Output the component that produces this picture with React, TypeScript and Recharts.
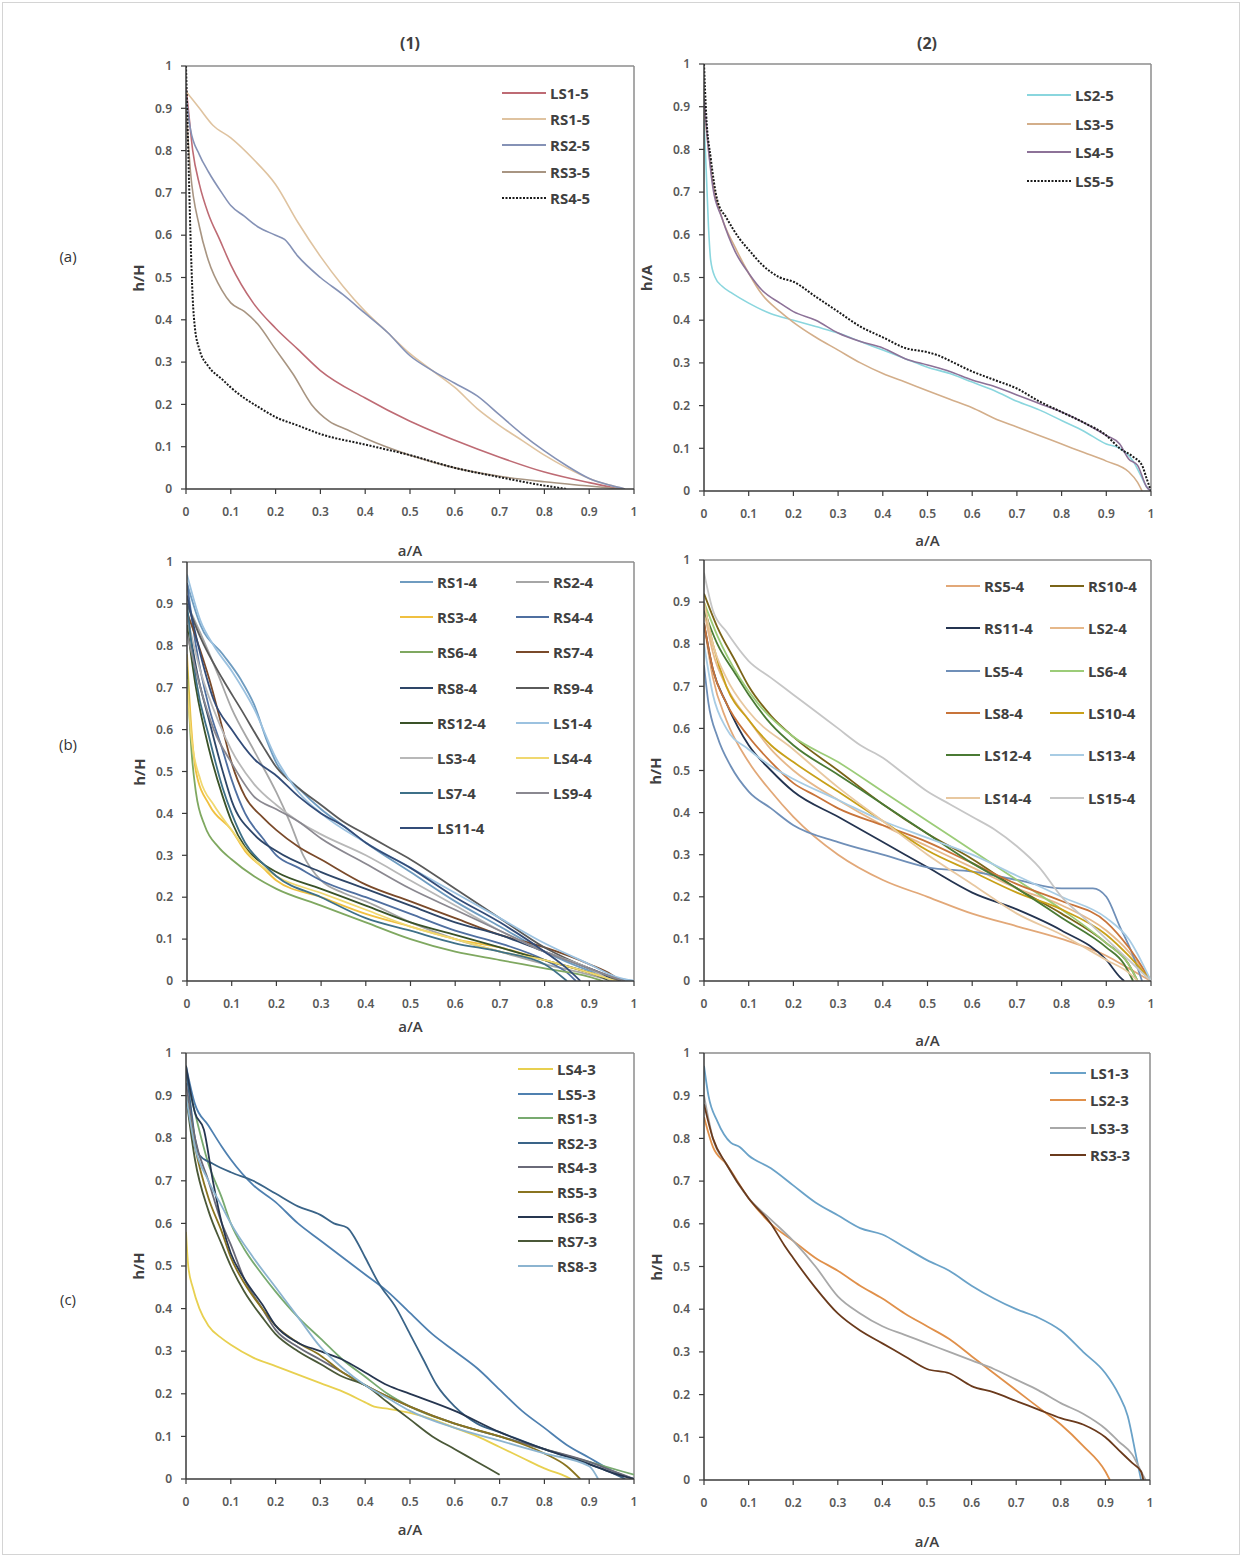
import React from 'react';
import { LineChart, Line, XAxis, YAxis, ReferenceLine } from 'recharts';

type Pt = { x: number; y: number };
const pts = (pairs: number[][]): Pt[] => pairs.map(([x, y]) => ({ x, y }));

const TICKS = [0, 0.1, 0.2, 0.3, 0.4, 0.5, 0.6, 0.7, 0.8, 0.9, 1];

// (a)(1)
const LS1_5 = pts([[0, 0.95], [0.005, 0.9], [0.015, 0.8], [0.03, 0.72], [0.05, 0.65], [0.075, 0.59], [0.1, 0.53], [0.15, 0.44], [0.2, 0.38], [0.25, 0.33], [0.3, 0.28], [0.4, 0.215], [0.5, 0.16], [0.6, 0.115], [0.7, 0.075], [0.8, 0.04], [0.9, 0.015], [0.97, 0]]);
const RS1_5 = pts([[0, 0.94], [0.03, 0.9], [0.06, 0.86], [0.1, 0.83], [0.15, 0.78], [0.2, 0.72], [0.25, 0.63], [0.3, 0.55], [0.35, 0.48], [0.4, 0.42], [0.45, 0.37], [0.5, 0.32], [0.55, 0.28], [0.6, 0.24], [0.65, 0.19], [0.7, 0.15], [0.75, 0.115], [0.8, 0.08], [0.85, 0.05], [0.9, 0.025], [0.95, 0.008], [0.98, 0]]);
const RS2_5 = pts([[0, 0.93], [0.01, 0.85], [0.03, 0.79], [0.05, 0.75], [0.08, 0.7], [0.1, 0.67], [0.13, 0.645], [0.16, 0.62], [0.2, 0.6], [0.22, 0.59], [0.25, 0.55], [0.3, 0.5], [0.35, 0.46], [0.4, 0.415], [0.45, 0.37], [0.5, 0.315], [0.55, 0.28], [0.6, 0.25], [0.65, 0.22], [0.7, 0.175], [0.75, 0.13], [0.8, 0.09], [0.85, 0.055], [0.9, 0.025], [0.95, 0.008], [0.98, 0]]);
const RS3_5 = pts([[0, 0.9], [0.01, 0.75], [0.03, 0.62], [0.05, 0.54], [0.08, 0.47], [0.1, 0.44], [0.13, 0.42], [0.16, 0.39], [0.2, 0.33], [0.24, 0.27], [0.28, 0.2], [0.32, 0.16], [0.36, 0.14], [0.4, 0.12], [0.5, 0.08], [0.6, 0.05], [0.7, 0.03], [0.8, 0.017], [0.9, 0.007], [0.97, 0]]);
const RS4_5 = pts([[0, 1], [0.005, 0.8], [0.01, 0.6], [0.015, 0.45], [0.02, 0.38], [0.03, 0.33], [0.05, 0.29], [0.08, 0.26], [0.1, 0.24], [0.13, 0.215], [0.16, 0.195], [0.2, 0.17], [0.25, 0.15], [0.3, 0.13], [0.4, 0.105], [0.5, 0.08], [0.6, 0.05], [0.7, 0.028], [0.8, 0.008], [0.85, 0]]);

// (a)(2)
const LS2_5 = pts([[0, 0.87], [0.005, 0.75], [0.01, 0.62], [0.015, 0.54], [0.025, 0.5], [0.04, 0.48], [0.06, 0.465], [0.1, 0.44], [0.15, 0.415], [0.2, 0.4], [0.25, 0.385], [0.3, 0.37], [0.35, 0.35], [0.4, 0.33], [0.45, 0.31], [0.5, 0.29], [0.55, 0.275], [0.6, 0.255], [0.65, 0.235], [0.7, 0.21], [0.75, 0.19], [0.8, 0.165], [0.85, 0.14], [0.9, 0.11], [0.93, 0.1], [0.96, 0.07], [0.98, 0.03], [0.99, 0.01], [1, 0]]);
const LS3_5 = pts([[0, 0.9], [0.01, 0.8], [0.02, 0.72], [0.04, 0.64], [0.07, 0.57], [0.1, 0.51], [0.13, 0.46], [0.17, 0.42], [0.2, 0.395], [0.25, 0.36], [0.3, 0.33], [0.35, 0.3], [0.4, 0.275], [0.45, 0.255], [0.5, 0.235], [0.55, 0.215], [0.6, 0.195], [0.65, 0.17], [0.7, 0.15], [0.75, 0.13], [0.8, 0.11], [0.85, 0.09], [0.9, 0.07], [0.95, 0.045], [0.97, 0.02], [0.98, 0]]);
const LS4_5 = pts([[0, 0.92], [0.01, 0.8], [0.02, 0.71], [0.04, 0.64], [0.07, 0.56], [0.1, 0.51], [0.13, 0.47], [0.17, 0.44], [0.2, 0.42], [0.25, 0.4], [0.3, 0.37], [0.35, 0.35], [0.4, 0.335], [0.45, 0.31], [0.5, 0.295], [0.55, 0.28], [0.6, 0.26], [0.65, 0.245], [0.7, 0.225], [0.75, 0.205], [0.8, 0.185], [0.85, 0.16], [0.9, 0.13], [0.93, 0.11], [0.95, 0.075], [0.97, 0.06], [0.99, 0.01], [1, 0]]);
const LS5_5 = pts([[0, 1], [0.005, 0.88], [0.015, 0.78], [0.03, 0.68], [0.05, 0.64], [0.08, 0.59], [0.1, 0.565], [0.13, 0.53], [0.17, 0.5], [0.2, 0.49], [0.25, 0.455], [0.3, 0.42], [0.35, 0.385], [0.4, 0.36], [0.45, 0.335], [0.5, 0.325], [0.53, 0.315], [0.55, 0.305], [0.6, 0.28], [0.65, 0.26], [0.7, 0.24], [0.75, 0.21], [0.8, 0.185], [0.85, 0.16], [0.9, 0.13], [0.93, 0.1], [0.96, 0.08], [0.98, 0.06], [0.99, 0.03], [1, 0]]);

// (b)(1)
const B1_RS1 = pts([[0, 0.95], [0.03, 0.85], [0.08, 0.78], [0.12, 0.72], [0.15, 0.66], [0.18, 0.57], [0.2, 0.52], [0.25, 0.46], [0.3, 0.41], [0.35, 0.37], [0.4, 0.33], [0.5, 0.26], [0.6, 0.19], [0.7, 0.13], [0.8, 0.07], [0.9, 0.025], [0.97, 0.005], [1, 0]]);
const B1_RS2 = pts([[0, 0.9], [0.03, 0.83], [0.07, 0.73], [0.1, 0.65], [0.15, 0.55], [0.2, 0.45], [0.23, 0.38], [0.26, 0.3], [0.3, 0.24], [0.35, 0.21], [0.4, 0.19], [0.5, 0.14], [0.6, 0.1], [0.7, 0.07], [0.8, 0.04], [0.9, 0.015], [0.95, 0]]);
const B1_RS3 = pts([[0, 0.78], [0.01, 0.6], [0.02, 0.5], [0.05, 0.42], [0.1, 0.36], [0.13, 0.31], [0.17, 0.27], [0.2, 0.24], [0.3, 0.2], [0.4, 0.16], [0.5, 0.13], [0.6, 0.1], [0.7, 0.08], [0.8, 0.05], [0.9, 0.02], [0.97, 0]]);
const B1_RS4 = pts([[0, 0.95], [0.02, 0.8], [0.05, 0.65], [0.08, 0.55], [0.1, 0.48], [0.13, 0.4], [0.17, 0.34], [0.2, 0.3], [0.25, 0.27], [0.3, 0.24], [0.4, 0.2], [0.5, 0.16], [0.6, 0.12], [0.7, 0.09], [0.8, 0.05], [0.85, 0.02], [0.87, 0]]);
const B1_RS6 = pts([[0, 0.75], [0.01, 0.55], [0.02, 0.45], [0.04, 0.37], [0.07, 0.32], [0.1, 0.29], [0.15, 0.25], [0.2, 0.22], [0.3, 0.18], [0.4, 0.14], [0.5, 0.1], [0.6, 0.07], [0.7, 0.05], [0.8, 0.03], [0.9, 0.01], [0.93, 0]]);
const B1_RS7 = pts([[0, 0.88], [0.02, 0.82], [0.05, 0.72], [0.08, 0.6], [0.1, 0.52], [0.13, 0.44], [0.17, 0.39], [0.2, 0.36], [0.25, 0.32], [0.3, 0.29], [0.4, 0.23], [0.5, 0.19], [0.6, 0.15], [0.7, 0.11], [0.8, 0.08], [0.9, 0.04], [0.95, 0.015], [0.97, 0]]);
const B1_RS8 = pts([[0, 0.88], [0.02, 0.75], [0.05, 0.62], [0.08, 0.5], [0.1, 0.43], [0.15, 0.35], [0.2, 0.31], [0.3, 0.26], [0.4, 0.22], [0.5, 0.18], [0.6, 0.14], [0.7, 0.11], [0.8, 0.07], [0.9, 0.03], [0.95, 0.005], [0.96, 0]]);
const B1_RS9 = pts([[0, 0.9], [0.03, 0.82], [0.08, 0.72], [0.12, 0.65], [0.17, 0.56], [0.2, 0.51], [0.25, 0.46], [0.3, 0.42], [0.35, 0.38], [0.4, 0.35], [0.45, 0.32], [0.5, 0.29], [0.6, 0.22], [0.7, 0.15], [0.8, 0.08], [0.9, 0.03], [0.95, 0.01], [0.97, 0]]);
const B1_RS12 = pts([[0, 0.85], [0.02, 0.7], [0.05, 0.55], [0.08, 0.44], [0.1, 0.38], [0.13, 0.32], [0.17, 0.28], [0.2, 0.26], [0.3, 0.22], [0.4, 0.18], [0.5, 0.14], [0.6, 0.11], [0.7, 0.08], [0.8, 0.05], [0.9, 0.02], [0.95, 0]]);
const B1_LS1 = pts([[0, 0.97], [0.03, 0.86], [0.06, 0.8], [0.1, 0.74], [0.15, 0.65], [0.2, 0.53], [0.25, 0.45], [0.3, 0.4], [0.4, 0.33], [0.5, 0.27], [0.6, 0.21], [0.7, 0.15], [0.8, 0.09], [0.9, 0.04], [0.96, 0.01], [1, 0]]);
const B1_LS3 = pts([[0, 0.87], [0.03, 0.74], [0.07, 0.62], [0.1, 0.55], [0.15, 0.47], [0.2, 0.42], [0.25, 0.38], [0.3, 0.35], [0.4, 0.3], [0.5, 0.24], [0.6, 0.18], [0.7, 0.12], [0.8, 0.07], [0.9, 0.03], [0.95, 0]]);
const B1_LS4 = pts([[0, 0.72], [0.01, 0.58], [0.03, 0.48], [0.06, 0.42], [0.1, 0.36], [0.15, 0.29], [0.2, 0.25], [0.3, 0.21], [0.4, 0.17], [0.5, 0.13], [0.6, 0.1], [0.7, 0.07], [0.8, 0.05], [0.9, 0.02], [0.96, 0]]);
const B1_LS7 = pts([[0, 0.9], [0.02, 0.72], [0.05, 0.58], [0.08, 0.46], [0.1, 0.4], [0.13, 0.33], [0.17, 0.28], [0.2, 0.25], [0.3, 0.2], [0.4, 0.15], [0.5, 0.12], [0.6, 0.09], [0.7, 0.07], [0.8, 0.04], [0.85, 0]]);
const B1_LS9 = pts([[0, 0.83], [0.03, 0.7], [0.06, 0.6], [0.1, 0.52], [0.15, 0.44], [0.2, 0.41], [0.25, 0.38], [0.3, 0.34], [0.4, 0.28], [0.5, 0.22], [0.6, 0.17], [0.7, 0.12], [0.8, 0.07], [0.9, 0.03], [0.95, 0.01], [0.98, 0]]);
const B1_LS11 = pts([[0, 0.92], [0.03, 0.78], [0.06, 0.67], [0.1, 0.6], [0.15, 0.53], [0.2, 0.49], [0.25, 0.44], [0.3, 0.4], [0.35, 0.37], [0.4, 0.33], [0.5, 0.27], [0.6, 0.2], [0.7, 0.14], [0.8, 0.07], [0.85, 0.03], [0.88, 0]]);

// (b)(2)
const B2_RS5 = pts([[0, 0.85], [0.02, 0.72], [0.05, 0.62], [0.1, 0.52], [0.15, 0.45], [0.2, 0.39], [0.3, 0.3], [0.4, 0.24], [0.5, 0.2], [0.6, 0.16], [0.7, 0.13], [0.8, 0.1], [0.9, 0.06], [0.95, 0.03], [1, 0]]);
const B2_RS10 = pts([[0, 0.92], [0.03, 0.84], [0.07, 0.76], [0.1, 0.7], [0.15, 0.63], [0.2, 0.58], [0.3, 0.5], [0.4, 0.42], [0.5, 0.35], [0.6, 0.29], [0.7, 0.22], [0.8, 0.16], [0.9, 0.09], [0.95, 0.04], [0.97, 0]]);
const B2_RS11 = pts([[0, 0.85], [0.02, 0.74], [0.05, 0.66], [0.1, 0.56], [0.15, 0.5], [0.2, 0.45], [0.3, 0.39], [0.4, 0.33], [0.5, 0.27], [0.6, 0.21], [0.7, 0.17], [0.8, 0.12], [0.9, 0.05], [0.93, 0.01], [0.94, 0]]);
const B2_LS2 = pts([[0, 0.88], [0.02, 0.78], [0.05, 0.7], [0.1, 0.62], [0.15, 0.55], [0.2, 0.5], [0.3, 0.43], [0.4, 0.37], [0.5, 0.32], [0.6, 0.27], [0.7, 0.22], [0.8, 0.18], [0.9, 0.12], [0.95, 0.07], [1, 0]]);
const B2_LS5 = pts([[0, 0.75], [0.01, 0.66], [0.03, 0.58], [0.06, 0.51], [0.1, 0.45], [0.15, 0.41], [0.2, 0.37], [0.3, 0.33], [0.4, 0.3], [0.5, 0.27], [0.6, 0.26], [0.7, 0.24], [0.8, 0.22], [0.87, 0.22], [0.9, 0.2], [0.93, 0.13], [0.96, 0.06], [0.98, 0]]);
const B2_LS6 = pts([[0, 0.9], [0.03, 0.82], [0.08, 0.72], [0.12, 0.66], [0.2, 0.58], [0.3, 0.52], [0.4, 0.45], [0.5, 0.38], [0.6, 0.31], [0.7, 0.24], [0.8, 0.17], [0.9, 0.09], [0.95, 0.04], [0.97, 0]]);
const B2_LS8 = pts([[0, 0.85], [0.02, 0.74], [0.05, 0.66], [0.1, 0.58], [0.15, 0.52], [0.2, 0.47], [0.25, 0.44], [0.3, 0.41], [0.4, 0.37], [0.5, 0.33], [0.6, 0.28], [0.7, 0.23], [0.8, 0.19], [0.9, 0.14], [0.95, 0.08], [1, 0]]);
const B2_LS10 = pts([[0, 0.9], [0.02, 0.8], [0.05, 0.7], [0.1, 0.62], [0.15, 0.56], [0.2, 0.52], [0.3, 0.45], [0.4, 0.38], [0.5, 0.31], [0.6, 0.26], [0.7, 0.21], [0.8, 0.17], [0.9, 0.11], [0.95, 0.06], [1, 0]]);
const B2_LS12 = pts([[0, 0.88], [0.03, 0.8], [0.07, 0.73], [0.1, 0.68], [0.15, 0.61], [0.2, 0.56], [0.3, 0.49], [0.4, 0.42], [0.5, 0.35], [0.6, 0.28], [0.7, 0.22], [0.8, 0.15], [0.9, 0.08], [0.94, 0.04], [0.96, 0]]);
const B2_LS13 = pts([[0, 0.8], [0.02, 0.68], [0.05, 0.6], [0.1, 0.55], [0.15, 0.51], [0.2, 0.48], [0.3, 0.43], [0.4, 0.38], [0.5, 0.34], [0.6, 0.3], [0.7, 0.25], [0.8, 0.2], [0.9, 0.15], [0.95, 0.1], [1, 0]]);
const B2_LS14 = pts([[0, 0.9], [0.02, 0.8], [0.05, 0.72], [0.1, 0.64], [0.2, 0.55], [0.3, 0.46], [0.4, 0.38], [0.5, 0.3], [0.6, 0.23], [0.7, 0.16], [0.8, 0.11], [0.9, 0.05], [0.95, 0.02], [0.97, 0]]);
const B2_LS15 = pts([[0, 0.97], [0.02, 0.88], [0.05, 0.83], [0.1, 0.76], [0.15, 0.72], [0.2, 0.68], [0.25, 0.64], [0.3, 0.6], [0.35, 0.56], [0.4, 0.53], [0.45, 0.49], [0.5, 0.45], [0.55, 0.42], [0.6, 0.39], [0.65, 0.36], [0.7, 0.32], [0.75, 0.27], [0.8, 0.2], [0.85, 0.15], [0.9, 0.1], [0.95, 0.05], [1, 0]]);

// (c)(1)
const C1_LS4 = pts([[0, 0.58], [0.005, 0.5], [0.015, 0.45], [0.03, 0.4], [0.05, 0.36], [0.08, 0.33], [0.1, 0.315], [0.15, 0.285], [0.2, 0.265], [0.25, 0.245], [0.3, 0.225], [0.35, 0.205], [0.4, 0.18], [0.42, 0.17], [0.45, 0.165], [0.5, 0.155], [0.55, 0.14], [0.6, 0.12], [0.65, 0.1], [0.7, 0.075], [0.75, 0.05], [0.8, 0.025], [0.85, 0.005], [0.86, 0]]);
const C1_LS5 = pts([[0, 0.97], [0.02, 0.88], [0.05, 0.83], [0.08, 0.78], [0.1, 0.75], [0.15, 0.69], [0.2, 0.65], [0.25, 0.6], [0.3, 0.56], [0.35, 0.52], [0.4, 0.48], [0.45, 0.44], [0.5, 0.39], [0.55, 0.34], [0.6, 0.3], [0.65, 0.26], [0.7, 0.21], [0.75, 0.16], [0.8, 0.12], [0.85, 0.08], [0.9, 0.05], [0.95, 0.02], [1, 0]]);
const C1_RS1 = pts([[0, 0.95], [0.02, 0.86], [0.05, 0.74], [0.08, 0.66], [0.1, 0.6], [0.13, 0.54], [0.17, 0.48], [0.2, 0.44], [0.25, 0.38], [0.3, 0.33], [0.35, 0.28], [0.4, 0.24], [0.45, 0.2], [0.5, 0.17], [0.6, 0.13], [0.7, 0.1], [0.8, 0.07], [0.9, 0.04], [0.95, 0.025], [1, 0.01]]);
const C1_RS2 = pts([[0, 0.96], [0.01, 0.88], [0.02, 0.8], [0.03, 0.76], [0.06, 0.74], [0.1, 0.72], [0.15, 0.7], [0.2, 0.67], [0.25, 0.64], [0.3, 0.62], [0.33, 0.6], [0.36, 0.59], [0.38, 0.56], [0.4, 0.52], [0.43, 0.46], [0.47, 0.4], [0.5, 0.34], [0.53, 0.28], [0.56, 0.22], [0.6, 0.17], [0.65, 0.13], [0.7, 0.11], [0.8, 0.07], [0.9, 0.035], [0.95, 0.015], [0.98, 0]]);
const C1_RS4 = pts([[0, 0.93], [0.02, 0.8], [0.05, 0.7], [0.08, 0.6], [0.1, 0.55], [0.13, 0.47], [0.17, 0.4], [0.2, 0.35], [0.25, 0.31], [0.3, 0.28], [0.35, 0.25], [0.4, 0.22], [0.5, 0.17], [0.6, 0.13], [0.7, 0.1], [0.8, 0.07], [0.9, 0.04], [0.95, 0.02], [1, 0]]);
const C1_RS5 = pts([[0, 0.9], [0.02, 0.78], [0.05, 0.66], [0.08, 0.58], [0.1, 0.52], [0.13, 0.46], [0.17, 0.4], [0.2, 0.36], [0.25, 0.32], [0.3, 0.29], [0.35, 0.25], [0.4, 0.22], [0.5, 0.17], [0.6, 0.13], [0.7, 0.1], [0.8, 0.06], [0.85, 0.03], [0.88, 0]]);
const C1_RS6 = pts([[0, 0.97], [0.02, 0.86], [0.04, 0.82], [0.06, 0.7], [0.08, 0.6], [0.1, 0.53], [0.13, 0.47], [0.17, 0.41], [0.2, 0.36], [0.25, 0.32], [0.3, 0.3], [0.35, 0.28], [0.4, 0.25], [0.45, 0.22], [0.5, 0.2], [0.6, 0.16], [0.7, 0.11], [0.8, 0.07], [0.9, 0.035], [0.95, 0.015], [1, 0]]);
const C1_RS7 = pts([[0, 0.9], [0.02, 0.75], [0.05, 0.63], [0.08, 0.55], [0.1, 0.5], [0.13, 0.44], [0.17, 0.38], [0.2, 0.34], [0.25, 0.3], [0.3, 0.27], [0.35, 0.24], [0.4, 0.22], [0.45, 0.18], [0.5, 0.14], [0.55, 0.1], [0.6, 0.07], [0.65, 0.04], [0.7, 0.01]]);
const C1_RS8 = pts([[0, 0.9], [0.02, 0.78], [0.05, 0.7], [0.08, 0.64], [0.1, 0.6], [0.15, 0.52], [0.2, 0.45], [0.25, 0.38], [0.3, 0.31], [0.35, 0.26], [0.4, 0.22], [0.45, 0.19], [0.5, 0.16], [0.6, 0.12], [0.7, 0.09], [0.8, 0.06], [0.9, 0.03], [0.92, 0]]);

// (c)(2)
const C2_LS1 = pts([[0, 0.97], [0.01, 0.9], [0.03, 0.84], [0.06, 0.79], [0.08, 0.78], [0.1, 0.76], [0.15, 0.73], [0.2, 0.69], [0.25, 0.65], [0.3, 0.62], [0.35, 0.59], [0.4, 0.575], [0.45, 0.545], [0.5, 0.515], [0.55, 0.49], [0.6, 0.455], [0.65, 0.425], [0.7, 0.4], [0.75, 0.38], [0.8, 0.35], [0.85, 0.3], [0.9, 0.25], [0.93, 0.2], [0.95, 0.15], [0.97, 0.05], [0.98, 0]]);
const C2_LS2 = pts([[0, 0.85], [0.02, 0.78], [0.05, 0.74], [0.1, 0.66], [0.15, 0.6], [0.2, 0.56], [0.25, 0.52], [0.3, 0.49], [0.35, 0.455], [0.4, 0.425], [0.45, 0.39], [0.5, 0.36], [0.55, 0.33], [0.6, 0.29], [0.65, 0.25], [0.7, 0.21], [0.75, 0.17], [0.8, 0.13], [0.85, 0.08], [0.9, 0.02], [0.91, 0]]);
const C2_LS3 = pts([[0, 0.9], [0.02, 0.8], [0.05, 0.74], [0.1, 0.66], [0.15, 0.61], [0.2, 0.56], [0.25, 0.5], [0.3, 0.43], [0.35, 0.39], [0.4, 0.36], [0.45, 0.34], [0.5, 0.32], [0.55, 0.3], [0.6, 0.28], [0.65, 0.26], [0.7, 0.235], [0.75, 0.21], [0.8, 0.18], [0.85, 0.155], [0.9, 0.12], [0.93, 0.09], [0.96, 0.06], [0.98, 0.02], [0.99, 0]]);
const C2_RS3 = pts([[0, 0.88], [0.02, 0.8], [0.05, 0.74], [0.1, 0.66], [0.15, 0.6], [0.18, 0.55], [0.2, 0.52], [0.25, 0.45], [0.3, 0.39], [0.35, 0.35], [0.4, 0.32], [0.45, 0.29], [0.5, 0.26], [0.55, 0.25], [0.6, 0.22], [0.65, 0.205], [0.7, 0.185], [0.75, 0.165], [0.8, 0.145], [0.85, 0.13], [0.9, 0.1], [0.93, 0.07], [0.96, 0.04], [0.98, 0.02], [0.985, 0]]);

type Series = { name: string; data: Pt[]; color: string; dotted?: boolean };

const SERIES_A1: Series[] = [
  { name: 'LS1-5', data: LS1_5, color: '#be6b74' },
  { name: 'RS1-5', data: RS1_5, color: '#dfc3a0' },
  { name: 'RS2-5', data: RS2_5, color: '#8592b6' },
  { name: 'RS3-5', data: RS3_5, color: '#a89582' },
  { name: 'RS4-5', data: RS4_5, color: '#1a1a1a', dotted: true },
];
const SERIES_A2: Series[] = [
  { name: 'LS2-5', data: LS2_5, color: '#8ad6de' },
  { name: 'LS3-5', data: LS3_5, color: '#d3ae8a' },
  { name: 'LS4-5', data: LS4_5, color: '#8d7298' },
  { name: 'LS5-5', data: LS5_5, color: '#1a1a1a', dotted: true },
];
const SERIES_B1: Series[] = [
  { name: 'RS1-4', data: B1_RS1, color: '#6f9cc0' },
  { name: 'RS2-4', data: B1_RS2, color: '#a6a6a6' },
  { name: 'RS3-4', data: B1_RS3, color: '#f0c040' },
  { name: 'RS4-4', data: B1_RS4, color: '#4f6fa0' },
  { name: 'RS6-4', data: B1_RS6, color: '#7fa860' },
  { name: 'RS7-4', data: B1_RS7, color: '#7a4a2a' },
  { name: 'RS8-4', data: B1_RS8, color: '#2e4668' },
  { name: 'RS9-4', data: B1_RS9, color: '#5a5a5a' },
  { name: 'RS12-4', data: B1_RS12, color: '#3a5228' },
  { name: 'LS1-4', data: B1_LS1, color: '#9cc2e0' },
  { name: 'LS3-4', data: B1_LS3, color: '#b8b8b8' },
  { name: 'LS4-4', data: B1_LS4, color: '#f0d870' },
  { name: 'LS7-4', data: B1_LS7, color: '#3e7088' },
  { name: 'LS9-4', data: B1_LS9, color: '#8a8890' },
  { name: 'LS11-4', data: B1_LS11, color: '#334c78' },
];
const SERIES_B2: Series[] = [
  { name: 'RS5-4', data: B2_RS5, color: '#e2a878' },
  { name: 'RS10-4', data: B2_RS10, color: '#7a6418' },
  { name: 'RS11-4', data: B2_RS11, color: '#243450' },
  { name: 'LS2-4', data: B2_LS2, color: '#e6b88a' },
  { name: 'LS5-4', data: B2_LS5, color: '#6f8fb8' },
  { name: 'LS6-4', data: B2_LS6, color: '#9ccc78' },
  { name: 'LS8-4', data: B2_LS8, color: '#c8743a' },
  { name: 'LS10-4', data: B2_LS10, color: '#c8a018' },
  { name: 'LS12-4', data: B2_LS12, color: '#4a7a34' },
  { name: 'LS13-4', data: B2_LS13, color: '#a8cce4' },
  { name: 'LS14-4', data: B2_LS14, color: '#e8c8a0' },
  { name: 'LS15-4', data: B2_LS15, color: '#c6c6c6' },
];
const SERIES_C1: Series[] = [
  { name: 'LS4-3', data: C1_LS4, color: '#e8d050' },
  { name: 'LS5-3', data: C1_LS5, color: '#4f80b0' },
  { name: 'RS1-3', data: C1_RS1, color: '#78aa70' },
  { name: 'RS2-3', data: C1_RS2, color: '#3a6488' },
  { name: 'RS4-3', data: C1_RS4, color: '#6a6a78' },
  { name: 'RS5-3', data: C1_RS5, color: '#8a7420' },
  { name: 'RS6-3', data: C1_RS6, color: '#263650' },
  { name: 'RS7-3', data: C1_RS7, color: '#4a5838' },
  { name: 'RS8-3', data: C1_RS8, color: '#8cb4d0' },
];
const SERIES_C2: Series[] = [
  { name: 'LS1-3', data: C2_LS1, color: '#6aa2c8' },
  { name: 'LS2-3', data: C2_LS2, color: '#e0904a' },
  { name: 'LS3-3', data: C2_LS3, color: '#a8a8a8' },
  { name: 'RS3-3', data: C2_RS3, color: '#6a3a1c' },
];

type Legend = { x: number; y: number; dy: number; lineW: number; cols: number; colDx: number };
type PanelCfg = {
  left: number; top: number; w: number; h: number;
  yTitle: string; yTitleX: number; xTitleY: number;
  series: Series[]; legend: Legend; strokeW: number;
};

const PANELS: PanelCfg[] = [
  { left: 186, top: 66, w: 448, h: 423, yTitle: 'h/H', yTitleX: 138, xTitleY: 550, series: SERIES_A1, strokeW: 1.6,
    legend: { x: 502, y: 93, dy: 26.2, lineW: 44, cols: 1, colDx: 0 } },
  { left: 704, top: 64, w: 447, h: 427, yTitle: 'h/A', yTitleX: 646, xTitleY: 540, series: SERIES_A2, strokeW: 1.6,
    legend: { x: 1027, y: 95, dy: 28.5, lineW: 44, cols: 1, colDx: 0 } },
  { left: 187, top: 562, w: 447, h: 419, yTitle: 'h/H', yTitleX: 139, xTitleY: 1026, series: SERIES_B1, strokeW: 1.8,
    legend: { x: 400, y: 582, dy: 35.2, lineW: 33, cols: 2, colDx: 116 } },
  { left: 704, top: 560, w: 447, h: 421, yTitle: 'h/H', yTitleX: 655, xTitleY: 1040, series: SERIES_B2, strokeW: 1.8,
    legend: { x: 946, y: 586, dy: 42.3, lineW: 34, cols: 2, colDx: 104 } },
  { left: 186, top: 1053, w: 448, h: 426, yTitle: 'h/H', yTitleX: 138, xTitleY: 1529, series: SERIES_C1, strokeW: 1.8,
    legend: { x: 518, y: 1069, dy: 24.6, lineW: 35, cols: 1, colDx: 0 } },
  { left: 704, top: 1053, w: 446, h: 427, yTitle: 'h/H', yTitleX: 656, xTitleY: 1541, series: SERIES_C2, strokeW: 1.8,
    legend: { x: 1050, y: 1073, dy: 27.3, lineW: 36, cols: 1, colDx: 0 } },
];

const TICK_STYLE = { fill: '#595959', fontSize: 12, fontFamily: 'Noto Sans', fontWeight: 600 };
const AXIS_COLOR = '#3a3a3a';
const FRAME_COLOR = '#8c8c8c';

function PanelLegend({ series, legend }: { series: Series[]; legend: Legend }) {
  return (
    <>
      {series.map((s, i) => {
        const col = i % legend.cols;
        const row = Math.floor(i / legend.cols);
        const x = legend.x + col * legend.colDx;
        const y = legend.y + row * legend.dy;
        return (
          <div key={s.name} style={{ position: 'absolute', left: x, top: y - 10, height: 20, display: 'flex', alignItems: 'center', whiteSpace: 'nowrap' }}>
            <svg width={legend.lineW} height={4} style={{ display: 'block' }}>
              <line x1={0} y1={2} x2={legend.lineW} y2={2} stroke={s.color} strokeWidth={s.dotted ? 2 : 2.2}
                strokeDasharray={s.dotted ? '2 1.5' : undefined} />
            </svg>
            <span style={{ marginLeft: 4, fontFamily: 'Open Sans', fontWeight: 700, fontSize: 15, color: '#404040' }}>{s.name}</span>
          </div>
        );
      })}
    </>
  );
}

function Panel({ cfg }: { cfg: PanelCfg }) {
  const padL = 60, padT = 10, padR = 14, padB = 32;
  return (
    <>
      <div style={{ position: 'absolute', left: cfg.left - padL, top: cfg.top - padT }}>
        <LineChart width={cfg.w + padL + padR} height={cfg.h + padT + padB} margin={{ top: padT, right: padR, left: 0, bottom: 0 }}>
          <XAxis dataKey="x" type="number" domain={[0, 1]} ticks={TICKS} interval={0} height={padB} allowDataOverflow
            tick={TICK_STYLE} tickSize={5} tickMargin={13} axisLine={{ stroke: AXIS_COLOR, strokeWidth: 1.5 }}
            tickLine={{ stroke: AXIS_COLOR, strokeWidth: 1.2 }} tickFormatter={(v: number) => String(v)} />
          <YAxis type="number" domain={[0, 1]} ticks={TICKS} interval={0} width={padL} allowDataOverflow
            tick={TICK_STYLE} tickSize={5} tickMargin={9} axisLine={{ stroke: AXIS_COLOR, strokeWidth: 1.5 }}
            tickLine={{ stroke: AXIS_COLOR, strokeWidth: 1.2 }} tickFormatter={(v: number) => String(v)} />
          <ReferenceLine y={1} stroke={FRAME_COLOR} strokeWidth={1.5} />
          <ReferenceLine x={1} stroke={FRAME_COLOR} strokeWidth={1.5} />
          {cfg.series.map((s) => (
            <Line key={s.name} data={s.data} dataKey="y" name={s.name} type="monotone" dot={false}
              stroke={s.color} strokeWidth={s.dotted ? 2 : cfg.strokeW}
              strokeDasharray={s.dotted ? '2 1.5' : undefined} isAnimationActive={false} />
          ))}
        </LineChart>
      </div>
      <PanelLegend series={cfg.series} legend={cfg.legend} />
      <div style={{ position: 'absolute', left: cfg.yTitleX - 30, top: cfg.top + cfg.h / 2 - 10, width: 60, height: 20,
        textAlign: 'center', lineHeight: '20px', transform: 'rotate(-90deg)', fontFamily: 'Open Sans', fontWeight: 700,
        fontSize: 15, color: '#404040' }}>{cfg.yTitle}</div>
      <div style={{ position: 'absolute', left: cfg.left + cfg.w / 2 - 40, top: cfg.xTitleY - 10, width: 80, height: 20,
        textAlign: 'center', lineHeight: '20px', fontFamily: 'Open Sans', fontWeight: 600, fontSize: 15,
        color: '#404040' }}>a/A</div>
    </>
  );
}

const COL_TITLES = [{ text: '(1)', x: 410 }, { text: '(2)', x: 927 }];
const ROW_TITLES = [{ text: '(a)', y: 257 }, { text: '(b)', y: 745 }, { text: '(c)', y: 1300 }];

export default function App() {
  return (
    <div style={{ position: 'absolute', left: 0, top: 0, width: 1242, height: 1557, background: '#fff', overflow: 'hidden' }}>
      <div style={{ position: 'absolute', left: 2, top: 2, width: 1236, height: 1551, border: '1px solid #d4d4d4' }} />
      {COL_TITLES.map((c) => (
        <div key={c.text} style={{ position: 'absolute', left: c.x - 30, top: 32, width: 60, textAlign: 'center',
          fontFamily: 'Open Sans', fontWeight: 700, fontSize: 16, color: '#404040' }}>{c.text}</div>
      ))}
      {ROW_TITLES.map((r) => (
        <div key={r.text} style={{ position: 'absolute', left: 48, top: r.y - 11, width: 40, textAlign: 'center',
          fontFamily: 'Open Sans', fontSize: 15, color: '#333' }}>{r.text}</div>
      ))}
      {PANELS.map((p, i) => <Panel key={i} cfg={p} />)}
    </div>
  );
}
